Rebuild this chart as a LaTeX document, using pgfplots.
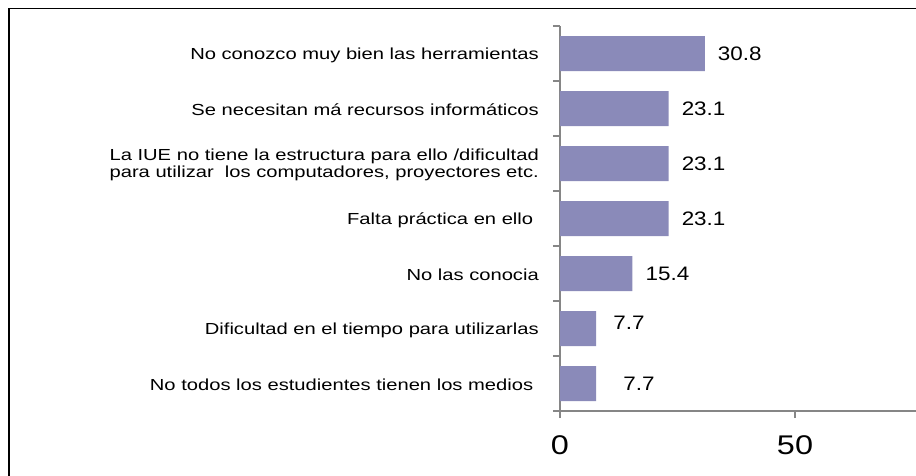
\documentclass[border=0pt]{standalone}
\usepackage{fontspec}
\setmainfont{Liberation Sans}
\newfontfamily\labfont[FakeStretch=1.26]{Liberation Sans}
\newfontfamily\tickfont[FakeStretch=1.2]{Liberation Sans}
\newfontfamily\valfont[FakeStretch=1.15]{Liberation Sans}
\usepackage{pgfplots}
\pgfplotsset{compat=1.18}
\usepackage{pgfplotstable}
\definecolor{barcol}{RGB}{138,138,185}
\definecolor{axcol}{RGB}{134,134,134}

% pos 6 = top row
\pgfplotstableread{
pos val dx dy lab
6 30.8 13 0 30.8
5 23.1 13 0 23.1
4 23.1 13 0 23.1
3 23.1 13 0 23.1
2 15.4 13 0 15.4
1 7.7  17 6 7.7
0 7.7  27 0 7.7
}\datatable

\begin{document}
\begin{tikzpicture}
\useasboundingbox (0,0) rectangle (916pt,475pt);
\draw[line width=1.5pt] (8.8pt,-5pt) -- (8.8pt,466.5pt) -- (925pt,466.5pt);
\begin{axis}[
    at={(560pt,64pt)}, anchor=south west,
    scale only axis,
    width=356pt, height=385pt,
    xmin=0, xmax=75.74,
    ymin=-0.5, ymax=6.5,
    axis lines*=left,
    axis line style={axcol, line width=1.5pt},
    tick style={axcol, line width=1.2pt},
    tick align=outside,
    major tick length=7pt,
    xtick={0,50},
    xticklabels={0,50},
    xticklabel style={font=\tickfont\fontsize{27}{27}\selectfont, inner sep=0pt, anchor=north, yshift=-17pt},
    ytick={-0.5,0.5,...,6.5},
    yticklabels={
        No todos los estudientes tienen los medios\ ,
        Dificultad en el tiempo para utilizarlas,
        No las conocia,
        Falta práctica en ello\ ,
        {La IUE no tiene la estructura para ello /dificultad\\para utilizar\ \ los computadores, proyectores etc.},
        Se necesitan má recursos informáticos,
        No conozco muy bien las herramientas,
        {}},
    yticklabel style={font=\labfont\fontsize{16}{17}\selectfont, align=center, inner sep=0pt, anchor=east, yshift=26pt, xshift=-14pt},
    xbar,
    bar width=35pt,
    point meta=explicit symbolic,
    visualization depends on={\thisrow{dx} \as \dx},
    visualization depends on={\thisrow{dy} \as \dy},
    nodes near coords,
    nodes near coords style={anchor=west, inner sep=0pt, black,
        font=\valfont\fontsize{19.5}{20}\selectfont, xshift=\dx pt, yshift=\dy pt},
]
\addplot[fill=barcol, draw=none] table[x=val, y=pos, meta=lab] {\datatable};
\end{axis}
\end{tikzpicture}
\end{document}
